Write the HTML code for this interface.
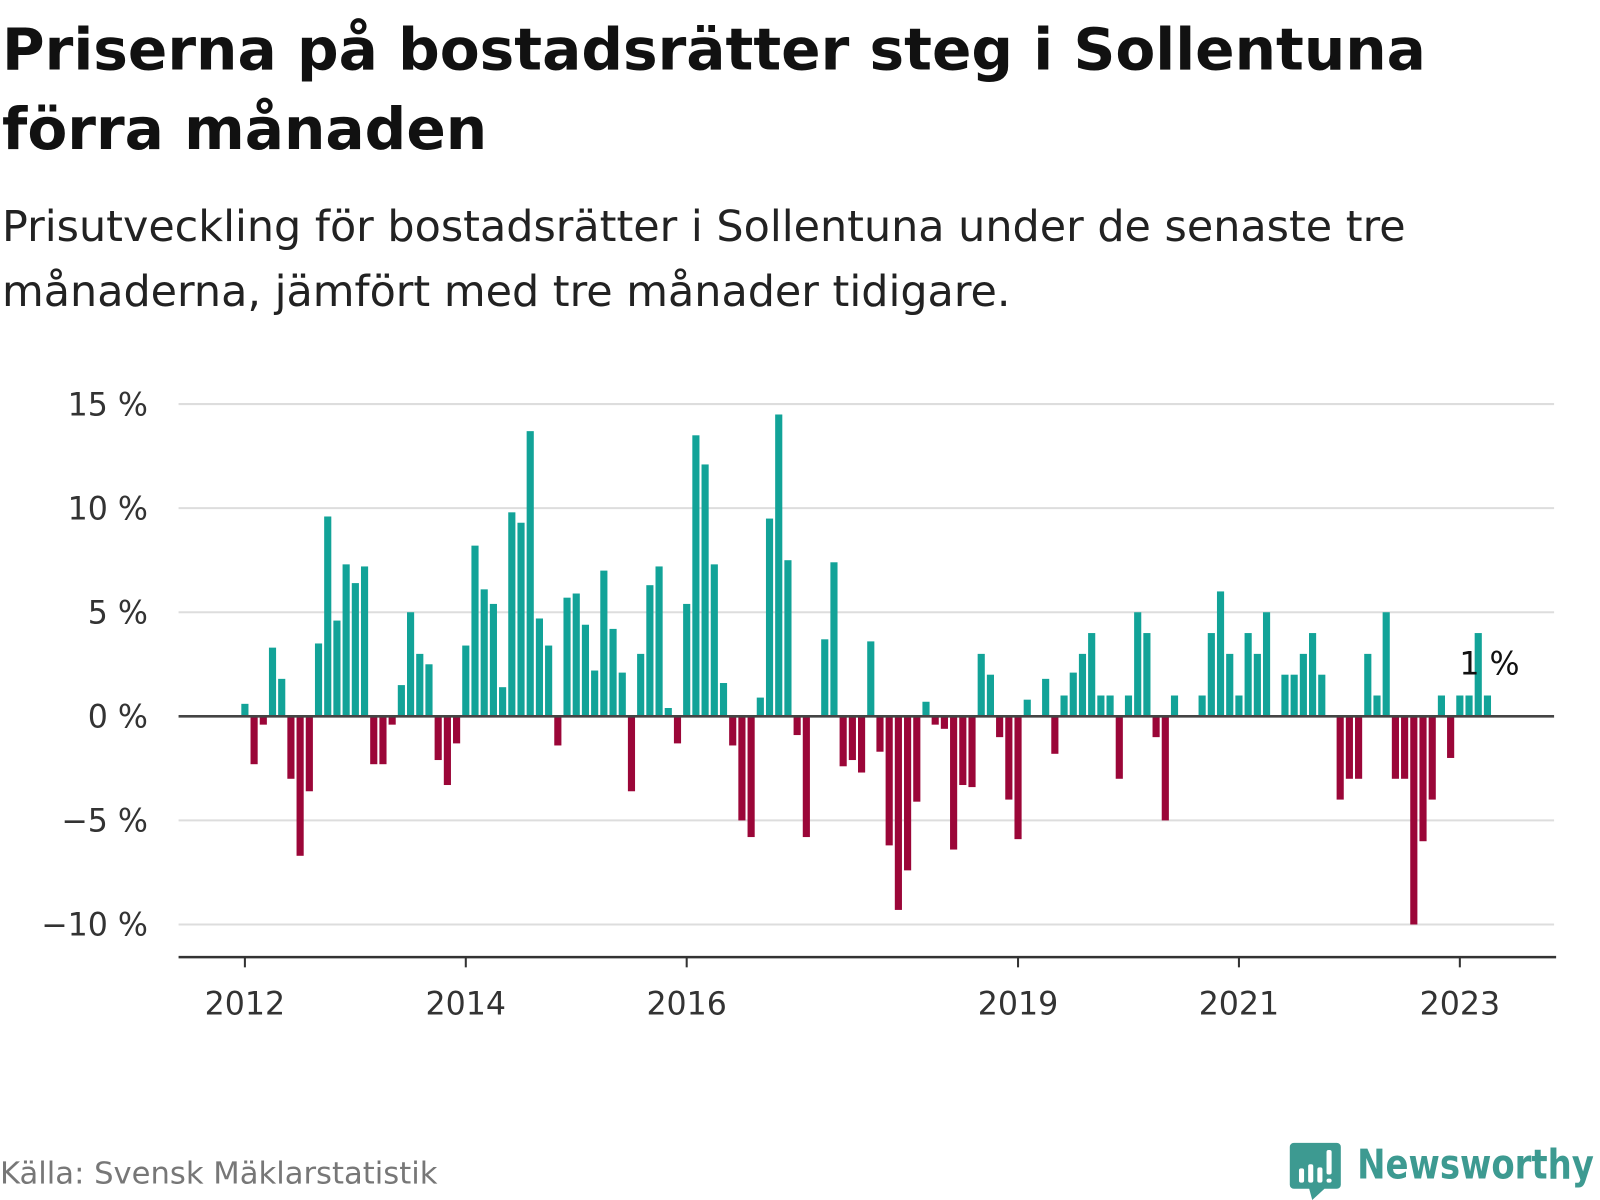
<!DOCTYPE html>
<html><head><meta charset="utf-8">
<style>
body{margin:0;width:1600px;height:1200px;background:#fff;overflow:hidden;position:relative}
#wrap{position:absolute;left:0;top:0;width:1568px;height:1176px;transform:scale(1.020408);transform-origin:0 0;font-family:"DejaVu Sans","Liberation Sans",sans-serif}
#title{position:absolute;left:2px;top:10px;font-size:57px;font-weight:bold;line-height:78px;color:#111;margin:0;white-space:nowrap}
#sub{position:absolute;left:2px;top:190px;font-size:42px;line-height:64px;color:#222;margin:0;white-space:nowrap}
#src{position:absolute;left:0;top:1133px;font-size:30px;color:#777}
svg{position:absolute;left:0;top:0}
</style></head><body>
<div id="wrap">
<h1 id="title">Priserna på bostadsrätter steg i Sollentuna<br>förra månaden</h1>
<p id="sub">Prisutveckling för bostadsrätter i Sollentuna under de senaste tre<br>månaderna, jämfört med tre månader tidigare.</p>
<div id="src">Källa: Svensk Mäklarstatistik</div>
<svg id="chart" width="1568" height="1176"></svg>
<svg width="1568" height="1176">
<path d="M1268 1120 h42 a4 4 0 0 1 4 4 v37 a4 4 0 0 1 -4 4 h-12 l-12 11 l-3 -11 h-15 a4 4 0 0 1 -4 -4 v-37 a4 4 0 0 1 4 -4z" fill="#3d9a91"/>
<rect x="1273" y="1145" width="5" height="14" rx="2" fill="#fff"/><rect x="1282" y="1141" width="5" height="18" rx="2" fill="#fff"/><rect x="1291" y="1144" width="5" height="15" rx="2" fill="#fff"/><rect x="1300" y="1127" width="5" height="24" rx="2" fill="#fff"/><rect x="1300" y="1155" width="5" height="4" rx="2" fill="#fff"/>
<text x="1330" y="1155" font-size="40" font-weight="bold" fill="#3d9a91" font-family="DejaVu Sans, sans-serif" textLength="232" lengthAdjust="spacingAndGlyphs">Newsworthy</text>
</svg>
</div>
<script>
const values=[0.6,-2.3,-0.4,3.3,1.8,-3.0,-6.7,-3.6,3.5,9.6,4.6,7.3,6.4,7.2,-2.3,-2.3,-0.4,1.5,5.0,3.0,2.5,-2.1,-3.3,-1.3,
3.4,8.2,6.1,5.4,1.4,9.8,9.3,13.7,4.7,3.4,-1.4,5.7,5.9,4.4,2.2,7.0,4.2,2.1,-3.6,3.0,6.3,7.2,0.4,-1.3,
5.4,13.5,12.1,7.3,1.6,-1.4,-5.0,-5.8,0.9,9.5,14.5,7.5,-0.9,-5.8,0,3.7,7.4,-2.4,-2.1,-2.7,3.6,-1.7,-6.2,-9.3,
-7.4,-4.1,0.7,-0.4,-0.6,-6.4,-3.3,-3.4,3.0,2.0,-1.0,-4.0,-5.9,0.8,0,1.8,-1.8,1.0,2.1,3.0,4.0,1.0,
1.0,-3.0,1.0,5.0,4.0,-1.0,-5.0,1.0,0,0,1.0,4.0,6.0,3.0,1.0,4.0,3.0,5.0,0,2.0,2.0,3.0,4.0,2.0,
0,-4.0,-3.0,-3.0,3.0,1.0,5.0,-3.0,-3.0,-10.0,-6.0,-4.0,1.0,-2.0,1.0,1.0,4.0,1.0];
const yTicks=[15,10,5,0,-5,-10];
const yLabels=["15 %","10 %","5 %","0 %","−5 %","−10 %"];
const xYears=[2012,2014,2016,2019,2021,2023];
const lastLabel="1 %";
const NS="http://www.w3.org/2000/svg";
const svg=document.getElementById('chart');
const y=v=>702-v*20.4;
const x=i=>240+i*9.02;
const xy=yr=>x((yr-2012)*12);
function mk(t,a){const e=document.createElementNS(NS,t);for(const k in a)e.setAttribute(k,a[k]);svg.appendChild(e);return e;}
yTicks.forEach((t,j)=>{
 const g=mk('line',{x1:175,x2:1523,y1:y(t),y2:y(t),stroke:'#ddd','stroke-width':2});
 
 
 const l=mk('text',{x:145,y:y(t)+11,'text-anchor':'end','font-size':31,fill:'#333'});
 l.textContent=yLabels[j];
 
 
});
values.forEach((v,i)=>{
 const r=mk('rect',{x:x(i)-3.5,width:7,y:Math.min(y(v),y(0)),height:Math.abs(y(v)-y(0)),fill:v>=0?'#12a398':'#9b0638'});
 
 
});
const z=mk('line',{x1:175,x2:1523,y1:y(0),y2:y(0),stroke:'#444','stroke-width':2.5});


const ax=mk('line',{x1:175,x2:1525,y1:938,y2:938,stroke:'#333','stroke-width':2.5});


xYears.forEach(yr=>{
 const t=mk('line',{x1:xy(yr),x2:xy(yr),y1:938,y2:948,stroke:'#333','stroke-width':2});
 
 
 const l=mk('text',{x:xy(yr),y:994,'text-anchor':'middle','font-size':31,fill:'#333'});
 l.textContent=yr;
 
 
});
const n=values.length-1;
const ll=mk('text',{x:x(n)+2,y:661,'text-anchor':'middle','font-size':31,fill:'#111'});
ll.textContent=lastLabel;


</script>
</body></html>
